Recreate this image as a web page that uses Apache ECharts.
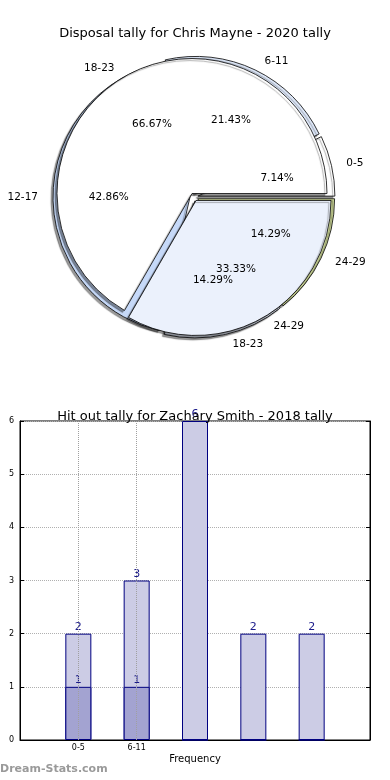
<!DOCTYPE html>
<html>
<head>
<meta charset="utf-8">
<script src="https://cdn.jsdelivr.net/npm/echarts@6/dist/echarts.min.js"></script>
<style>
html,body{margin:0;padding:0;background:#fff;}
#chart{width:390px;height:780px;}
</style>
</head>
<body>
<div id="chart"></div>
<script>
// ---- data ----
const pieTitle = 'Disposal tally for Chris Mayne - 2020 tally';
const pieCategoriesA = ['0-5', '6-11', '12-17', '18-23', '24-29'];
const pieValuesA = [1, 3, 6, 2, 2];
const pieCategoriesB = ['18-23', '24-29'];
const pieValuesB = [2, 1];

const barTitle = 'Hit out tally for Zachary Smith - 2018 tally';
const barTickLabels = ['0-5', '6-11'];
const lightValues = [2, 3, 6, 2, 2];
const darkValues = [1, 1, 0, 0, 0];
const yMin = 0, yMax = 6;
const xMin = -1, xMax = 5;
const xAxisName = 'Frequency';
const yAxisName = 'Stat Intervals';
const watermark = 'Dream-Stats.com';

// ---- styles ----
const FONT = 'DejaVu Sans';
const colorsA = ['#ffffff', '#dde7f8', '#c6d9f8', '#e6edfb', '#cdd898'];
const colorsB = ['#ffffff', '#ebf1fc'];
const center = [194, 197];
const RA = 137, RB = 135;
const transparent = 'rgba(0,0,0,0)';

function pieData(names, values, colors, sel) {
  return names.map((n, i) => ({
    name: n, value: values[i], selected: sel,
    itemStyle: colors ? { color: colors[i] } : undefined
  }));
}
function pctOf(values) {
  const total = values.reduce((a, b) => a + b, 0);
  return p => (p.value / total * 100).toFixed(2) + '%';
}

const shadowStyle = {
  borderColor: '#000', borderWidth: 0.8,
  shadowBlur: 1, shadowColor: 'rgba(0,0,0,0.4)', shadowOffsetX: -2, shadowOffsetY: 2
};
const nameLabel = {
  show: true, position: 'outside', color: '#000', fontFamily: FONT, fontSize: 10.5,
  formatter: '{b}'
};
const nameLabelLine = { show: false, length: 10, length2: 0 };

const chart = echarts.init(document.getElementById('chart'), null, { renderer: 'canvas' });

const option = {
  animation: false,
  backgroundColor: '#fff',
  textStyle: { fontFamily: FONT },
  title: [
    { text: pieTitle, left: 'center', top: 22,
      textStyle: { fontFamily: FONT, fontSize: 13, fontWeight: 'normal', color: '#000' } },
    { text: barTitle, left: 'center', top: 405,
      textStyle: { fontFamily: FONT, fontSize: 13, fontWeight: 'normal', color: '#000' } }
  ],
  grid: { left: 20, right: 20, top: 421, bottom: 40, containLabel: false, outerBoundsMode: 'none',
          show: true, borderColor: '#000', borderWidth: 1, backgroundColor: '#fff', z: 0 },
  xAxis: {
    type: 'value', min: xMin, max: xMax, interval: 1,
    name: xAxisName, nameLocation: 'middle', nameGap: 14,
    nameTextStyle: { fontFamily: FONT, fontSize: 10, color: '#000' },
    axisLine: { show: true, onZero: false, lineStyle: { color: '#000' } },
    axisTick: { show: false },
    splitLine: { show: false },
    axisLabel: {
      fontFamily: FONT, fontSize: 8, color: '#000', margin: 4,
      formatter: v => (v >= 0 && v < barTickLabels.length) ? barTickLabels[v] : ''
    }
  },
  yAxis: [
    {
      type: 'value', min: yMin, max: yMax, interval: 1,
      name: yAxisName, nameLocation: 'middle', nameGap: 10, nameRotate: 90,
      nameTextStyle: { fontFamily: FONT, fontSize: 10, color: '#000' },
      axisLine: { show: true, onZero: false, lineStyle: { color: '#000' } },
      axisTick: { show: true, inside: true, length: 4, lineStyle: { color: '#000' } },
      splitLine: { show: true, lineStyle: { color: '#b0b0b0', type: 'dotted', width: 1 } },
      axisLabel: { fontFamily: FONT, fontSize: 8, color: '#000', margin: 6 }
    },
    {
      type: 'value', min: yMin, max: yMax, interval: 1, position: 'right',
      axisLine: { show: true, onZero: false, lineStyle: { color: '#000' } },
      axisTick: { show: true, inside: true, length: 4, lineStyle: { color: '#000' } },
      splitLine: { show: false },
      axisLabel: { show: false }
    }
  ],
  graphic: [
    { type: 'text', left: 0, top: 764, z: 100,
      style: { text: watermark, fill: '#9a9a9a', font: 'bold 11px "DejaVu Sans"' } }
  ],
  series: [
    // first pie (underneath)
    {
      type: 'pie', z: 1, center: center, radius: RA,
      startAngle: 0, clockwise: false,
      selectedMode: 'multiple', selectedOffset: 4,
      avoidLabelOverlap: false, silent: true,
      data: pieData(pieCategoriesA, pieValuesA, colorsA, true),
      itemStyle: shadowStyle,
      select: { itemStyle: shadowStyle },
      emphasis: { disabled: true },
      label: nameLabel, labelLine: nameLabelLine,
      labelLayout: { hideOverlap: false }
    },
    // second pie (on top)
    {
      type: 'pie', z: 2, center: center, radius: RB,
      startAngle: 0, clockwise: false,
      selectedMode: 'multiple', selectedOffset: 4,
      avoidLabelOverlap: false, silent: true,
      data: pieData(pieCategoriesB, pieValuesB, colorsB, true),
      itemStyle: shadowStyle,
      select: { itemStyle: shadowStyle },
      emphasis: { disabled: true },
      label: nameLabel, labelLine: nameLabelLine,
      labelLayout: { hideOverlap: false }
    },
    // percentage labels, first pie
    {
      type: 'pie', z: 5, center: center, radius: [0, RA * 1.2],
      startAngle: 0, clockwise: false, silent: true, avoidLabelOverlap: false,
      data: pieData(pieCategoriesA, pieValuesA, null, false),
      itemStyle: { color: transparent, borderWidth: 0 },
      emphasis: { disabled: true },
      label: { show: true, position: 'inside', color: '#000', fontFamily: FONT, fontSize: 10.5,
               overflow: 'none', formatter: pctOf(pieValuesA) },
      labelLine: { show: false },
      labelLayout: { hideOverlap: false }
    },
    // percentage labels, second pie
    {
      type: 'pie', z: 5, center: center, radius: [0, RB * 1.2],
      startAngle: 0, clockwise: false, silent: true, avoidLabelOverlap: false,
      data: pieData(pieCategoriesB, pieValuesB, null, false),
      itemStyle: { color: transparent, borderWidth: 0 },
      emphasis: { disabled: true },
      label: { show: true, position: 'inside', color: '#000', fontFamily: FONT, fontSize: 10.5,
               overflow: 'none', formatter: pctOf(pieValuesB) },
      labelLine: { show: false },
      labelLayout: { hideOverlap: false }
    },
    // bars
    {
      type: 'bar', xAxisIndex: 0, yAxisIndex: 0, z: 3,
      barWidth: 26, barGap: '-100%',
      data: lightValues.map((v, i) => [i, v]),
      itemStyle: { color: '#ccccE5', borderColor: '#000080', borderWidth: 1 },
      label: { show: true, position: 'top', distance: 1, color: '#1a1a8a', fontFamily: FONT, fontSize: 11,
               formatter: p => p.value[1] ? String(p.value[1]) : '' },
      markLine: {
        silent: true, symbol: 'none', label: { show: false },
        lineStyle: { color: '#a0a0a0', type: 'dotted', width: 1 },
        data: barTickLabels.map((_, i) => ({ xAxis: i }))
      }
    },
    {
      type: 'bar', xAxisIndex: 0, yAxisIndex: 0, z: 4,
      barWidth: 26, barGap: '-100%',
      data: darkValues.map((v, i) => [i, v]),
      itemStyle: { color: '#a3a3d1', borderColor: '#000080', borderWidth: 1 },
      label: { show: true, position: 'top', distance: 1, color: '#1a1a8a', fontFamily: FONT, fontSize: 11,
               formatter: p => p.value[1] ? String(p.value[1]) : '' }
    }
  ]
};
chart.setOption(option);
</script>
</body>
</html>
